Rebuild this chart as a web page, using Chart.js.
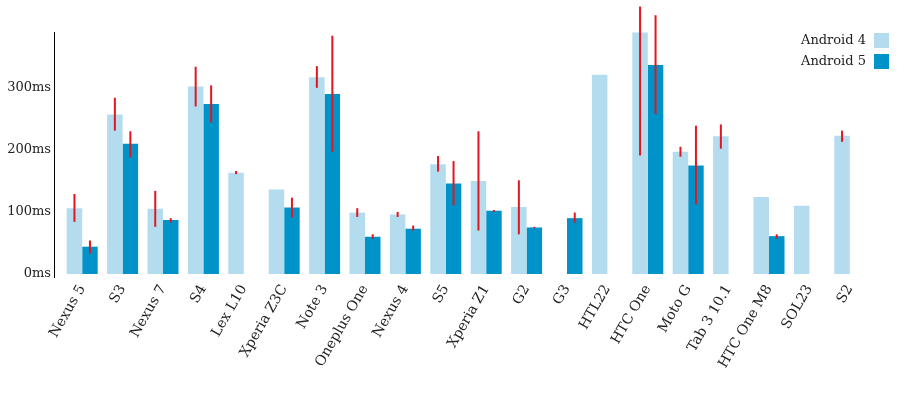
<!DOCTYPE html>
<html><head><meta charset="utf-8">
<script src="https://cdn.jsdelivr.net/npm/chart.js@4"></script>
<style>html,body{margin:0;padding:0;background:#fff}#wrap{width:922px;height:402px;position:relative}</style>
</head><body><div id="wrap"><canvas id="c"></canvas></div>
<script>
const categories = ['Nexus 5','S3','Nexus 7','S4','Lex L10','Xperia Z3C','Note 3','Oneplus One','Nexus 4','S5','Xperia Z1','G2','G3','HTL22','HTC One','Moto G','Tab 3 10.1','HTC One M8','SOL23','S2'];
const android4 = [106, 257, 105, 302, 163, 136, 317, 99, 96, 177, 150, 108, null, 321, 389, 197, 222, 124, 110, 223];
const android5 = [44, 210, 87, 274, null, 107, 290, 60, 73, 146, 102, 75, 90, null, 337, 175, null, 61, null, null];
const err4Low  = [84, 231, 76, 270, 161, null, 300, 92, 92, 165, 70, 64, null, null, 191, 189, 202, null, null, 213];
const err4High = [129, 284, 134, 334, 166, null, 335, 106, 100, 190, 230, 151, null, null, 431, 205, 241, null, null, 231];
const err5Low  = [33, 188, 83, 244, null, 91, 197, 57, 70, 111, 100, 74, 83, null, 258, 112, null, 57, null, null];
const err5High = [54, 230, 90, 304, null, 123, 384, 64, 78, 182, 103, 76, 99, null, 417, 239, null, 64, null, null];
const yTicks = [0, 100, 200, 300];
const seriesNames = ['Android 4', 'Android 5'];
const seriesColors = ['#b3dcee', '#0093c9'];

const FONT = 'DejaVu Serif';
const TEXT = '#222';

const errorBars = {
  id: 'errorBars',
  afterDatasetsDraw(chart) {
    const ctx = chart.ctx, y = chart.scales.y;
    const sets = [[err4Low, err4High], [err5Low, err5High]];
    ctx.save();
    ctx.strokeStyle = '#e3161f';
    ctx.lineWidth = 2;
    sets.forEach(([lo, hi], di) => {
      const meta = chart.getDatasetMeta(di);
      meta.data.forEach((bar, i) => {
        if (lo[i] == null || hi[i] == null) return;
        ctx.beginPath();
        ctx.moveTo(bar.x, y.getPixelForValue(lo[i]));
        ctx.lineTo(bar.x, y.getPixelForValue(hi[i]));
        ctx.stroke();
      });
    });
    ctx.restore();
  }
};

const axisLine = {
  id: 'axisLine',
  afterDraw(chart) {
    const a = chart.chartArea, ctx = chart.ctx;
    const x = Math.round(a.left - 8) + 0.5;
    ctx.save();
    ctx.strokeStyle = '#000';
    ctx.lineWidth = 1;
    ctx.beginPath();
    ctx.moveTo(x, a.top);
    ctx.lineTo(x, a.bottom + 4);
    ctx.stroke();
    ctx.restore();
  }
};

const sideLegend = {
  id: 'sideLegend',
  afterDraw(chart) {
    const ctx = chart.ctx;
    ctx.save();
    ctx.font = '13px "' + FONT + '"';
    ctx.fillStyle = TEXT;
    ctx.textAlign = 'right';
    ctx.textBaseline = 'middle';
    chart.data.datasets.forEach((ds, i) => {
      const yy = 33 + i * 21;
      ctx.fillStyle = ds.backgroundColor;
      ctx.fillRect(874, yy, 15, 15);
      ctx.fillStyle = TEXT;
      ctx.fillText(ds.label, 866, yy + 7.5);
    });
    ctx.restore();
  }
};

new Chart(document.getElementById('c'), {
  type: 'bar',
  data: {
    labels: categories,
    datasets: [
      { label: seriesNames[0], data: android4, backgroundColor: seriesColors[0], categoryPercentage: 0.767, barPercentage: 1.0 },
      { label: seriesNames[1], data: android5, backgroundColor: seriesColors[1], categoryPercentage: 0.767, barPercentage: 1.0 }
    ]
  },
  options: {
    responsive: true,
    maintainAspectRatio: false,
    animation: false,
    layout: { padding: { top: 32, right: 52, left: 0, bottom: 0 } },
    plugins: { legend: { display: false }, tooltip: { enabled: false } },
    scales: {
      x: {
        grid: { display: false, drawTicks: false },
        border: { display: false },
        ticks: {
          autoSkip: false, minRotation: 60, maxRotation: 60, padding: 8,
          color: TEXT, font: { family: FONT, size: 14 }
        },
        afterFit(axis) { axis.height = 128; }
      },
      y: {
        min: 0, max: 390,
        grid: { display: false, drawTicks: false },
        border: { display: false },
        afterBuildTicks(axis) { axis.ticks = yTicks.map(v => ({ value: v })); },
        ticks: {
          padding: 11, color: TEXT, font: { family: FONT, size: 13 },
          callback: v => v + 'ms'
        },
        afterFit(axis) { axis.width = 62; }
      }
    }
  },
  plugins: [errorBars, axisLine, sideLegend]
});
</script>
</body></html>
